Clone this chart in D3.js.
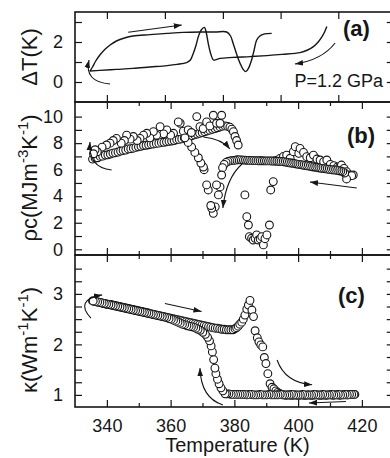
<!DOCTYPE html>
<html><head><meta charset="utf-8">
<script src="https://cdn.jsdelivr.net/npm/d3@7/dist/d3.min.js"></script>
<style>
body{margin:0;background:#fff}
svg{display:block}
</style></head><body>
<svg id="chart" width="390" height="458"></svg>
<script>
// ---------------- DATA ----------------
// Panel (a): ΔT (K) vs T (K), two branches (line)
const dtUpperT = [334.7,335.5,336.5,337.8,339.5,341,343,345.5,348.2,353.5,358.9,364,369.2,374,377.6,378.8,379.6,380.7,381.8,382.8,383.6,384.4,385.4,386.2,387,388,389,390.3,391.7];
const dtUpperV = [0.55,0.75,1.05,1.35,1.65,1.85,2.05,2.2,2.3,2.37,2.43,2.48,2.5,2.5,2.5,2.3,1.94,1.4,0.93,0.62,0.52,0.68,1.1,1.6,2.1,2.3,2.38,2.42,2.43];
const dtLowerT = [334.7,337.8,343,348.2,353.5,358.9,362,365,366.2,367.1,368,368.7,369.6,370.6,371.2,371.8,372.6,373.4,374.3,375.5,379.6,385,390.2,395,400.6,403,404.8,406.3,407.5,408.3,409];
const dtLowerV = [0.55,0.58,0.63,0.68,0.75,0.82,0.88,0.97,1.1,1.43,1.85,2.27,2.6,2.73,2.45,1.93,1.4,1.1,1.12,1.18,1.23,1.27,1.32,1.38,1.47,1.6,1.77,2.0,2.27,2.5,2.77];

// Panel (b): ρc (MJ m^-3 K^-1) vs T (K), open circles
const rhoHeatT = [335.5,336.3,337.1,337.9,338.7,339.5,340.3,341.1,341.9,342.7,343.5,344.3,345.1,345.9,346.7,347.5,348.3,349.1,349.9,350.7,351.5,352.3,353.1,353.9,354.7,355.5,356.3,357.1,357.9,358.7,359.5,360.3,361.1,361.9,362.7,363.5,364.3,365.1,365.9,366.7,367.5,368.3,369.1,369.9,370.7,371.5,372.3,373.1,373.9,374.7,375.5,376.3,377.1,377.9,378.6,379.2,379.7,380.2,380.7,381.2,
  364.0,365.5,366.5,368.2,369.2,370.2,371.3,372.3,373.4,374.4,375.5,376.0,
  383.3,383.9,384.4,384.7,385.4,385.9,386.5,387.0,387.5,388.1,388.6,389.1,389.6,390.2,391.0,391.4,392.2,
  393.2,394.3,395.4,396.4,397.5,398.5,399.1,400.2,400.6,401.7,402.7,403.8,404.8,405.9,406.9,408.0,409.0,410.1,411.2,412.3,413.1,413.6,414.4,415.2,416.3,417.3];
const rhoHeatV = [6.80,6.88,6.90,7.00,7.02,7.10,7.12,7.18,7.25,7.28,7.33,7.40,7.45,7.48,7.56,7.58,7.62,7.68,7.72,7.76,7.82,7.84,7.88,7.92,7.94,7.98,8.00,8.05,8.06,8.10,8.14,8.16,8.20,8.26,8.28,8.32,8.38,8.44,8.50,8.56,8.62,8.68,8.74,8.80,8.86,8.92,8.98,9.04,9.10,9.16,9.22,9.28,9.30,9.26,9.20,9.05,8.86,8.50,8.20,7.86,
  8.90,9.00,8.80,10.0,9.24,9.10,9.60,9.30,10.1,9.50,9.50,10.1,
  4.10,2.46,1.83,0.95,0.83,0.70,0.83,1.08,0.70,0.78,0.95,0.33,0.80,1.08,1.83,4.47,5.10,
  6.70,6.85,7.00,7.10,6.86,7.36,7.73,7.23,7.60,7.30,6.98,6.90,7.10,6.80,6.73,6.60,6.73,6.40,6.30,6.20,6.23,6.35,6.10,5.85,5.60,5.60];
const rhoCoolT = [416.8,415.2,414.6,414.0,413.4,412.8,412.2,411.6,411.0,410.4,409.8,409.2,408.6,408.0,407.4,406.8,406.2,405.6,405.0,404.4,403.8,403.2,402.6,402.0,401.4,400.8,400.2,399.6,399.0,398.4,397.8,397.2,396.6,396.0,395.4,394.8,394.2,393.6,393.0,392.4,391.8,391.2,390.6,390.0,389.4,388.8,388.2,387.6,387.0,386.4,385.8,385.2,384.6,384.0,383.4,382.8,382.2,381.6,381.0,380.4,379.8,379.2,378.6,378.0,377.4,
  376.8,376.3,376.0,375.5,375.0,374.4,374.0,373.4,372.9,372.6,371.8,371.3,370.5,370.3,369.5,368.7,367.6,366.6,365.5,364.5,
  363.0,362.4,360.9,360.0,358.8,357.8,356.7,355.6,354.6,353.5,352.5,351.5,350.4,349.5,348.3,347.3,346.2,345.5,344.5,343.0,342.0,341.0,339.9,338.5,337.0,336.3,335.8];
const rhoCoolV = [5.55,5.30,5.75,5.85,5.90,5.92,5.95,5.98,5.98,6.00,6.02,6.04,6.06,6.08,6.10,6.12,6.15,6.18,6.20,6.22,6.25,6.28,6.30,6.32,6.35,6.38,6.40,6.42,6.45,6.48,6.50,6.52,6.55,6.58,6.60,6.62,6.62,6.64,6.64,6.65,6.65,6.66,6.66,6.66,6.66,6.67,6.67,6.67,6.68,6.68,6.68,6.70,6.70,6.70,6.72,6.72,6.74,6.74,6.75,6.72,6.70,6.68,6.66,6.62,6.55,
  6.40,6.15,5.60,4.70,4.10,4.85,3.20,2.71,3.09,3.30,4.47,4.85,6.00,6.20,6.50,6.90,7.30,7.70,8.05,8.40,
  9.50,9.60,8.74,8.60,9.00,8.70,9.24,8.60,8.87,8.40,8.74,8.60,8.36,8.20,8.50,8.30,8.60,8.20,8.00,8.36,8.20,8.00,7.86,7.70,7.35,7.50,7.20];

// Panel (c): κ (W m^-1 K^-1) vs T (K), open circles
const kapHeatT = [335.5,336.2,336.9,337.6,338.3,339.0,339.7,340.4,341.1,341.8,342.5,343.2,343.9,344.6,345.3,346.0,346.7,347.4,348.1,348.8,349.5,350.2,350.9,351.6,352.3,353.0,353.7,354.4,355.1,355.8,356.5,357.2,357.9,358.6,359.3,360.0,360.7,361.4,362.1,362.8,363.5,364.2,364.9,365.6,366.3,367.0,367.7,368.4,369.1,369.8,370.5,371.2,371.9,372.6,373.3,374.0,374.7,375.4,376.1,376.8,377.5,378.2,378.9,
  379.6,380.2,380.7,381.2,381.7,382.3,382.8,383.3,383.9,384.4,384.9,385.5,386.0,386.5,387.2,387.7,388.3,388.9,389.4,389.9,390.5,391.2,391.8,392.4,393.0,393.6,394.2,394.8,
  395.5,396.2,396.9,397.6,398.3,399.0,399.7,400.4,401.1,401.8,402.5,403.2,403.9,404.6,405.3,406.0,406.7,407.4,408.1,408.8,409.5,410.2,410.9,411.6,412.3,413.0,413.7,414.4,415.1,415.8,416.5,417.2,417.8];
const kapHeatV = [2.86,2.85,2.84,2.83,2.82,2.81,2.80,2.79,2.79,2.78,2.77,2.76,2.75,2.74,2.73,2.72,2.71,2.70,2.69,2.68,2.67,2.66,2.65,2.64,2.63,2.62,2.61,2.60,2.59,2.58,2.57,2.56,2.55,2.54,2.53,2.52,2.51,2.50,2.49,2.48,2.47,2.46,2.45,2.44,2.43,2.42,2.41,2.40,2.39,2.38,2.37,2.36,2.35,2.34,2.33,2.32,2.32,2.31,2.30,2.30,2.29,2.29,2.29,
  2.29,2.31,2.33,2.36,2.40,2.44,2.50,2.58,2.70,2.78,2.87,2.68,2.55,2.27,2.13,2.05,1.99,1.95,1.74,1.62,1.42,1.22,1.15,1.12,1.08,1.05,1.03,1.01,
  1.00,0.99,1.00,0.99,0.99,1.00,0.99,0.99,1.00,0.99,0.99,1.00,0.99,0.99,1.00,1.00,0.99,0.99,1.00,0.99,1.00,1.00,0.99,1.00,1.00,0.99,1.00,1.00,1.00,1.00,1.01,1.01,1.01];
const kapCoolT = [417.5,416.8,416.1,415.4,414.7,414.0,413.3,412.6,411.9,411.2,410.5,409.8,409.1,408.4,407.7,407.0,406.3,405.6,404.9,404.2,403.5,402.8,402.1,401.4,400.7,400.0,399.3,398.6,397.9,397.2,396.5,395.8,395.1,394.4,393.7,393.0,392.3,391.6,390.9,390.2,389.5,388.8,388.1,387.4,386.7,386.0,385.3,384.6,383.9,383.2,382.5,381.8,381.1,380.4,379.7,379.0,378.3,377.6,
  377.1,376.4,375.8,375.2,374.7,374.2,373.9,373.5,373.1,372.7,372.2,371.6,370.9,370.1,369.3,
  368.6,367.9,367.2,366.5,365.8,365.1,364.4,363.7,363.0,362.3,361.6,360.9,360.2,359.5,358.8,358.1,357.4,356.7,356.0,355.3,354.6,353.9,353.2,352.5,351.8,351.1,350.4,349.7,349.0,348.3,347.6,346.9,346.2,345.5,344.8,344.1,343.4,342.7,342.0,341.3,340.6,339.9,339.2,338.5,337.8,337.1,336.4,335.7];
const kapCoolV = [1.01,1.01,1.01,1.00,1.01,1.00,1.00,1.01,1.00,1.00,1.01,1.00,1.00,1.00,1.01,1.00,1.00,1.00,1.01,1.00,1.00,1.00,1.00,1.01,1.00,1.00,1.00,1.00,1.01,1.00,1.00,1.00,1.00,1.01,1.00,1.00,1.00,1.00,1.01,1.00,1.00,1.00,1.01,1.00,1.00,1.00,1.01,1.01,1.00,1.01,1.01,1.01,1.01,1.01,1.01,1.01,1.02,1.02,
  1.02,1.08,1.14,1.22,1.31,1.42,1.53,1.70,1.85,1.97,2.07,2.14,2.20,2.24,2.28,
  2.30,2.32,2.34,2.35,2.36,2.37,2.39,2.40,2.42,2.44,2.46,2.48,2.50,2.51,2.53,2.54,2.55,2.56,2.57,2.58,2.59,2.60,2.61,2.62,2.63,2.64,2.65,2.66,2.67,2.68,2.69,2.70,2.71,2.72,2.73,2.74,2.75,2.76,2.77,2.78,2.79,2.80,2.81,2.82,2.83,2.84,2.85,2.86];

// Tick values
const xMajor = [340,360,380,400,420];
const xMinor = [350,370,390,410];
const xTicksA = [340,358.2,376.4,394.5,412.6];
const yTicksA = [0,1,2,3];
const yLabelsA = [0,2];
const yTicksB = [0,1,2,3,4,5,6,7,8,9,10];
const yLabelsB = [0,2,4,6,8,10];
const yTicksC = [1,1.25,1.5,1.75,2,2.25,2.5,2.75,3,3.25,3.5];
const yLabelsC = [1,2,3];

// Arrow annotations (data coordinates: [T, value]) — start, control, end
const arrowsA = [[[346.7,2.49],[355,2.67],[363.5,2.85]], [[341,-0.1],[332.8,0],[334.4,1.1]], [[411.6,1.95],[407.5,1.1],[399,0.9]]];
const arrowsB = [[[341.5,5.98],[334.1,6.13],[334.7,8.08]], [[370.3,8.46],[376.1,8.31],[378.6,7.56]], [[382.4,6.43],[377.4,5.37],[376.4,3.11]], [[418.4,4.62],[411,4.85],[403.7,5.07]]];
const arrowsC = [[[335,2.52],[329.7,2.88],[338.5,2.98]], [[358.2,2.81],[364,2.73],[369.7,2.65]], [[376.4,0.8],[369.5,0.94],[369.2,1.53]], [[393.4,1.69],[395.9,1.24],[404.4,1.2]], [[415,0.87],[409,0.855],[403.4,0.84]]];

// ---------------- DRAW ----------------
const FONT = '"Liberation Sans", Arial, Helvetica, sans-serif';
const INK = "#161616";
const svg = d3.select("#chart").attr("font-family", FONT);

const L = 75, R = 393.75;
const x = d3.scaleLinear([330, 430], [L, R]);
const yA = d3.scaleLinear([-1, 3.5], [102, 12]);
const yB = d3.scaleLinear([-0.43, 11.1], [255, 102]);
const yC = d3.scaleLinear([0.76, 3.77], [407, 255]);

// arrow marker
svg.append("defs").append("marker")
  .attr("id", "ah").attr("viewBox", "0 -5 10 10").attr("refX", 9).attr("refY", 0)
  .attr("markerWidth", 9).attr("markerHeight", 9).attr("markerUnits", "userSpaceOnUse")
  .attr("orient", "auto")
  .append("path").attr("d", "M0,-3.2L9,0L0,3.2Z").attr("fill", INK);

function axis(gen, scale, tr, vals, len, labels) {
  const a = gen(scale).tickValues(vals).tickSizeInner(-len).tickSizeOuter(0).tickPadding(12)
    .tickFormat(d => (labels && labels.includes(d)) ? String(d) : "");
  const g = svg.append("g").attr("transform", tr).call(a)
    .attr("font-family", FONT).attr("font-size", 18);
  g.select(".domain").remove();
  g.selectAll(".tick line").attr("stroke", INK).attr("stroke-width", 1.2);
  g.selectAll(".tick text").attr("fill", INK);
}

// panel extents
const panels = [
  {y: yA, top: 12, bot: 102},
  {y: yB, top: 102, bot: 255},
  {y: yC, top: 255, bot: 407}
];

// x ticks
axis(d3.axisTop, x, `translate(0,12)`, xTicksA, 7);
axis(d3.axisBottom, x, `translate(0,102)`, xTicksA, 7);
axis(d3.axisTop, x, `translate(0,102)`, xMajor, 7);
axis(d3.axisTop, x, `translate(0,102)`, xMinor, 4);
axis(d3.axisBottom, x, `translate(0,255)`, xMajor, 7);
axis(d3.axisBottom, x, `translate(0,255)`, xMinor, 4);
axis(d3.axisTop, x, `translate(0,255)`, xMajor, 7);
axis(d3.axisTop, x, `translate(0,255)`, xMinor, 4);
axis(d3.axisBottom, x, `translate(0,407)`, xMajor, 7, xMajor);
axis(d3.axisBottom, x, `translate(0,407)`, xMinor, 4);

// y ticks
axis(d3.axisLeft, yA, `translate(${L},0)`, yTicksA, 7, yLabelsA);
axis(d3.axisRight, yA, `translate(${R},0)`, yTicksA, 7);
axis(d3.axisLeft, yB, `translate(${L},0)`, yTicksB, 7, yLabelsB);
axis(d3.axisRight, yB, `translate(${R},0)`, yTicksB, 7);
axis(d3.axisLeft, yC, `translate(${L},0)`, yTicksC, 7, yLabelsC);
axis(d3.axisRight, yC, `translate(${R},0)`, yTicksC, 7);

// frames
panels.forEach(p => {
  svg.append("rect").attr("x", L).attr("y", p.top).attr("width", R - L).attr("height", p.bot - p.top)
    .attr("fill", "none").attr("stroke", INK).attr("stroke-width", 1.6);
});

// Panel (a) lines
const lineA = d3.line().x(d => x(d[0])).y(d => yA(d[1])).curve(d3.curveCatmullRom.alpha(0.5));
[[dtUpperT, dtUpperV], [dtLowerT, dtLowerV]].forEach(([t, v]) => {
  svg.append("path").datum(d3.zip(t, v)).attr("d", lineA)
    .attr("fill", "none").attr("stroke", INK).attr("stroke-width", 1.4);
});

// Panel (b) & (c) circles
function circles(t, v, ys) {
  svg.append("g").selectAll("circle").data(d3.zip(t, v)).join("circle")
    .attr("cx", d => x(d[0])).attr("cy", d => ys(d[1])).attr("r", 3.9)
    .attr("fill", "#fff").attr("stroke", INK).attr("stroke-width", 1.1);
}
circles(rhoHeatT, rhoHeatV, yB);
circles(rhoCoolT, rhoCoolV, yB);
circles(kapHeatT, kapHeatV, yC);
circles(kapCoolT, kapCoolV, yC);

// arrows
function arrows(list, ys) {
  list.forEach(a => {
    const p = d3.path();
    p.moveTo(x(a[0][0]), ys(a[0][1]));
    p.quadraticCurveTo(x(a[1][0]), ys(a[1][1]), x(a[2][0]), ys(a[2][1]));
    svg.append("path").attr("d", p.toString()).attr("fill", "none")
      .attr("stroke", INK).attr("stroke-width", 1.1).attr("marker-end", "url(#ah)");
  });
}
arrows(arrowsA, yA);
arrows(arrowsB, yB);
arrows(arrowsC, yC);

// panel letters and annotation
svg.append("text").attr("x", 343).attr("y", 36).attr("font-size", 22).attr("font-weight", "bold").attr("fill", INK).text("(a)");
svg.append("text").attr("x", 347).attr("y", 143).attr("font-size", 22).attr("font-weight", "bold").attr("fill", INK).text("(b)");
svg.append("text").attr("x", 338).attr("y", 303).attr("font-size", 22).attr("font-weight", "bold").attr("fill", INK).text("(c)");
svg.append("text").attr("x", 383).attr("y", 87).attr("text-anchor", "end").attr("font-size", 18).attr("fill", INK).text("P=1.2 GPa");

// axis titles
svg.append("text").attr("x", (L + 400) / 2 + 0).attr("y", 452).attr("text-anchor", "middle")
  .attr("font-size", 20).attr("fill", INK).text("Temperature (K)");

function ylab(cy, parts) {
  const t = svg.append("text").attr("transform", `translate(37,${cy}) rotate(-90)`)
    .attr("text-anchor", "middle").attr("font-size", 22).attr("fill", INK);
  parts.forEach(([s, sup]) => {
    const ts = t.append("tspan").text(s);
    if (sup) ts.attr("font-size", 15).attr("dy", -9);
    else ts.attr("dy", 0);
  });
  // fix baseline shifts: each sup followed by reset
  let prevSup = false;
  t.selectAll("tspan").each(function(d, i) {
    const isSup = parts[i][1];
    if (isSup && !prevSup) d3.select(this).attr("dy", -9);
    else if (!isSup && prevSup) d3.select(this).attr("dy", 9);
    else d3.select(this).attr("dy", 0);
    prevSup = isSup;
  });
}
ylab(57, [["ΔT(K)", false]]);
ylab(178, [["ρc(MJm", false], ["-3", true], ["K", false], ["-1", true], [")", false]]);
ylab(340, [["κ(Wm", false], ["-1", true], ["K", false], ["-1", true], [")", false]]);
</script>
</body></html>
